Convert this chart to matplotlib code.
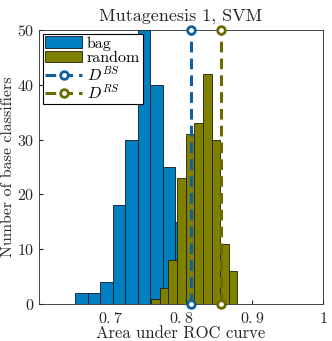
import numpy as np
import matplotlib
matplotlib.use('Agg')
import matplotlib.pyplot as plt

plt.rcParams['font.family'] = 'serif'
plt.rcParams['font.serif'] = ['cmr10']
plt.rcParams['mathtext.fontset'] = 'cm'
plt.rcParams['axes.formatter.use_mathtext'] = True

# histogram of bag-sampled classifiers
bag_start = 0.6513
bag_width = 0.01754
bag_counts = [2, 2, 4, 18, 30, 55, 40, 25, 15]

# histogram of random-sampled classifiers
rand_start = 0.7577
rand_width = 0.01218
rand_counts = [1, 3, 8, 23, 31, 33, 42, 30, 11, 6]

d_bs = 0.8137
d_rs = 0.8556

xtick_vals = [0.7, 0.8, 0.9, 1.0]
xtick_labels = ['0.7', '0.8', '0.9', '1']
ytick_vals = [0, 10, 20, 30, 40, 50]

bag_col = '#0080c0'
rand_col = '#808000'
bs_col = '#1060a0'
rs_col = '#6a6a00'
txt_col = '#262626'


def oldstyle(s):
    # old-style digits from cmmi10, the point from cmr10
    parts = s.split('.')
    return '$' + r'\mathrm{.}'.join(r'\mathit{%s}' % p for p in parts) + '$'


fig = plt.figure(figsize=(3.32, 3.41), dpi=100)
ax = fig.add_axes([0.1175, 0.1085, 0.8555, 0.8035])

bag_x = bag_start + bag_width*np.arange(len(bag_counts))
rand_x = rand_start + rand_width*np.arange(len(rand_counts))
h_bag = ax.bar(bag_x, bag_counts, width=bag_width, align='edge', color=bag_col,
               edgecolor='#101820', linewidth=0.6, zorder=2)
h_rand = ax.bar(rand_x, rand_counts, width=rand_width, align='edge', color=rand_col,
                edgecolor='#202000', linewidth=0.6, zorder=3)

lines = []
for x, c in [(d_bs, bs_col), (d_rs, rs_col)]:
    l, = ax.plot([x, x], [0, 50], color=c, lw=2.2, ls=(0, (3.5, 2)), marker='o',
                 ms=5.5, mfc='white', mec=c, mew=2, clip_on=False, zorder=5)
    lines.append(l)

ax.set_xlim(0.6, 1.0)
ax.set_ylim(0, 50)
ax.set_xticks(xtick_vals)
ax.set_xticklabels([oldstyle(t) for t in xtick_labels])
ax.set_yticks(ytick_vals)
ax.set_yticklabels([oldstyle(str(v)) for v in ytick_vals])
ax.tick_params(direction='in', labelsize=11.5, length=3, color=txt_col, labelcolor=txt_col)
ax.tick_params(axis='x', pad=5)
for s in ax.spines.values():
    s.set_color(txt_col)
    s.set_linewidth(0.6)

ax.set_xlabel('Area under ROC curve', fontsize=12, labelpad=0, color=txt_col)
ax.set_ylabel('Number of base classifiers', fontsize=11.5, labelpad=1, color=txt_col)
ax.set_title('Mutagenesis 1, SVM', fontsize=13, pad=7, color=txt_col)

leg = ax.legend([h_bag, h_rand] + lines, ['bag', 'random', r'$D^{BS}$', r'$D^{RS}$'],
                loc='upper left', fontsize=11.5, fancybox=False, framealpha=1,
                edgecolor='black', borderpad=0.15, labelspacing=0.0,
                handlelength=2.3, handletextpad=0.3, borderaxespad=0.25)
leg.get_frame().set_linewidth(0.8)

fig.savefig('out.png', dpi=100)
